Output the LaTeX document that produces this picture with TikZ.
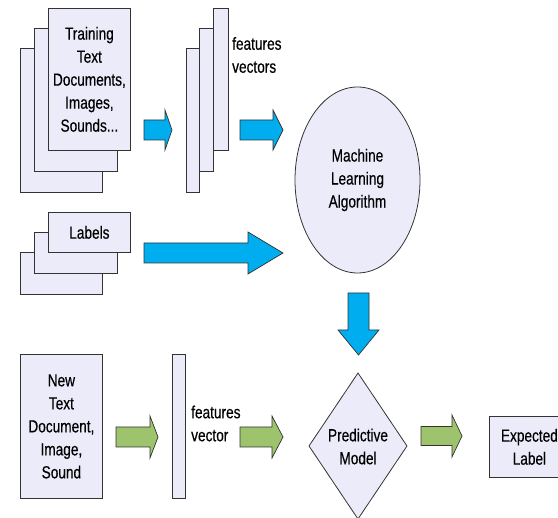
\documentclass[tikz,border=0pt]{standalone}
\usepackage{fontspec}
\setmainfont{Liberation Sans}[FakeStretch=0.78, FakeBold=0.4]
\usetikzlibrary{shapes.geometric}

\definecolor{sheetfill}{HTML}{EBEBFA}
\definecolor{arrowblue}{HTML}{00AEEF}
\definecolor{arrowgreen}{HTML}{9DC46D}
\definecolor{edgegray}{HTML}{333333}

% block arrow pointing right: fill, tail x, head start x, tip x, centre y, half shaft, half head
\newcommand\fatright[7]{%
  \draw[fatarrow, fill=#1] (#2,#5-#6) -- (#3,#5-#6) -- (#3,#5-#7) -- (#4,#5)
    -- (#3,#5+#7) -- (#3,#5+#6) -- (#2,#5+#6) -- cycle;}

\tikzset{
  every node/.style={font=\fontsize{17.5}{23}\selectfont},
  sheet/.style={draw=edgegray, fill=sheetfill, line width=0.8pt, inner sep=0pt,
    anchor=north west, align=center},
  fatarrow/.style={draw=edgegray, line width=0.7pt, line join=miter},
  caption/.style={inner sep=0pt, align=left, anchor=west},
}

\begin{document}
\begin{tikzpicture}[x=1pt, y=-1pt]
  \useasboundingbox (0,0) rectangle (558,518);
  \clip (0,0) rectangle (558,518);

  % training documents stack
  \node[sheet, minimum width=82pt, minimum height=144pt] (doc3) at (20,48) {};
  \node[sheet, minimum width=83pt, minimum height=143pt] (doc2) at (34,28) {};
  \node[sheet, minimum width=82pt, minimum height=142pt] (doc1) at (48,8)
    {Training\\Text\\Documents,\\Images,\\Sounds...};

  % feature vectors stack
  \node[sheet, minimum width=13pt, minimum height=144pt] (fv3) at (186,48) {};
  \node[sheet, minimum width=14pt, minimum height=143pt] (fv2) at (199,28) {};
  \node[sheet, minimum width=15pt, minimum height=142pt] (fv1) at (213,8) {};
  \node[caption] (fvtext) at (232,55) {features\\vectors};

  % labels stack
  \node[sheet, minimum width=82pt, minimum height=42pt] (lab3) at (20,252) {};
  \node[sheet, minimum width=83pt, minimum height=41pt] (lab2) at (34,232) {};
  \node[sheet, minimum width=82pt, minimum height=40pt] (lab1) at (48,212) {Labels};

  % learning algorithm
  \node[ellipse, draw=edgegray, fill=sheetfill, line width=0.8pt, inner sep=0pt,
    minimum width=125pt, minimum height=186pt, align=center] (mla) at (357.5,180)
    {Machine\\Learning\\Algorithm};

  % new input and its feature vector
  \node[sheet, minimum width=82pt, minimum height=144pt] (newdoc) at (20,354)
    {New\\Text\\Document,\\Image,\\Sound};
  \node[sheet, minimum width=13pt, minimum height=144pt] (newfv) at (172,354) {};
  \node[caption] (newfvtext) at (191,423.5) {features\\vector};

  % predictive model
  \draw[draw=edgegray, fill=sheetfill, line width=0.8pt]
    (358,373) -- (407,446) -- (358,519) -- (309,446) -- cycle;
  \node[inner sep=0pt, align=center] (model) at (358,446.5) {Predictive\\Model};

  % expected label
  \node[sheet, minimum width=80pt, minimum height=61pt] (expected) at (489,416)
    {Expected\\Label};

  % blue training arrows
  \fatright{arrowblue}{144}{165}{172}{130}{10}{20}
  \fatright{arrowblue}{240}{273}{283}{130}{10}{20}
  \fatright{arrowblue}{144}{248}{283}{253}{10}{21}
  \draw[fatarrow, fill=arrowblue] (348,293) -- (369,293) -- (369,330) -- (379,330)
    -- (358.5,355) -- (338,330) -- (348,330) -- cycle;

  % green prediction arrows
  \fatright{arrowgreen}{116}{150}{158}{437}{10}{21}
  \fatright{arrowgreen}{240}{272}{283}{437}{10}{21}
  \fatright{arrowgreen}{421}{452}{462}{436}{9.5}{21}
\end{tikzpicture}
\end{document}
